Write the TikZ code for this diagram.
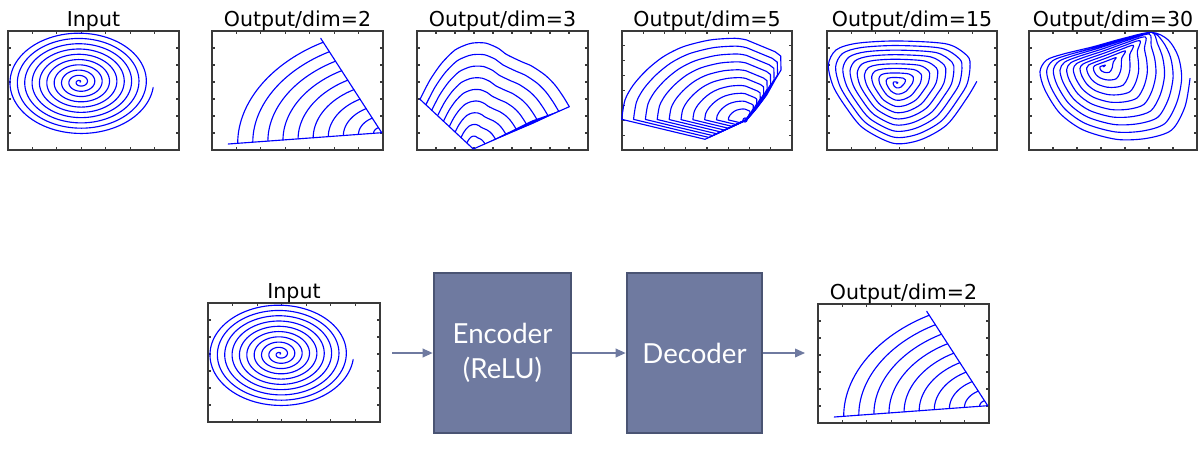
\documentclass[tikz,border=0pt]{standalone}
\usepackage{fontspec}
\setmainfont{DejaVu Sans}
\newfontfamily\blkfont{Lato}
\usetikzlibrary{arrows.meta}
\definecolor{blkfill}{HTML}{6F7AA0}
\definecolor{blkedge}{HTML}{4A5473}
\definecolor{arrc}{HTML}{6F7AA0}
\definecolor{frm}{HTML}{3A3A3A}
\definecolor{spc}{RGB}{0,0,255}
\tikzset{
  framesty/.style={draw=frm, line width=0.9pt},
  bluecurve/.style={draw=spc, line width=0.85pt, line join=round, line cap=round},
  ttl/.style={anchor=base, inner sep=0pt, font=\fontsize{15.4}{18}\selectfont},
  blk/.style={draw=blkedge, fill=blkfill, line width=2pt, text=white, align=center, inner sep=0pt, font=\blkfont\fontsize{20.7}{26.5}\selectfont, minimum height=120pt},
  conn/.style={draw=arrc, line width=1.1pt, -{Triangle[length=7.5pt,width=6.5pt]}},
}
\newcommand\axframe[6]{%
  \draw[framesty] (#1,#2) rectangle ++(#3,#4);
  \foreach \i in {1,...,#5}{
    \draw[framesty] ({#1+\i*#3/(#5+1)},#2) -- ++(0,3);
    \draw[framesty] ({#1+\i*#3/(#5+1)},{#2+#4}) -- ++(0,-3);
  }
  \foreach \i in {1,...,#6}{
    \draw[framesty] (#1,{#2+\i*#4/(#6+1)}) -- ++(3,0);
    \draw[framesty] ({#1+#3},{#2+\i*#4/(#6+1)}) -- ++(-3,0);
  }
}
\newcommand\inputspiral{%
  \draw[bluecurve] plot[domain=0:62.74, samples=1000] ({72+1.173*\x*cos(\x r)}, {51-0.84*\x*sin(\x r)});
}
\newcommand\dimtwo{%
  \foreach \rr in {8.1,23.2,38.3,53.4,68.5,83.6,98.7,113.8,128.9,144}{
    \draw[bluecurve] plot[domain=0:66.05, samples=60] ({169.7-\rr*cos(\x)}, {101.7-0.72*\rr*sin(\x)+0.0734*\rr*cos(\x)});
  }
  \draw[bluecurve] (16.3,113) -- (169.7,101.7) -- (108.7,7.3);
}
\begin{document}
\begin{tikzpicture}[x=0.75pt,y=-0.75pt]
\fill[white] (0,0) rectangle (1203,450);
\useasboundingbox (0,0) rectangle (1203,450);

% ---------- top row frames ----------
\axframe{8}{31}{171}{119}{6}{6}
\axframe{212}{31}{171}{119}{6}{6}
\axframe{417}{31}{171}{119}{8}{6}
\axframe{622}{31}{170}{119}{7}{7}
\axframe{827}{31}{170}{119}{6}{6}
\axframe{1029}{31}{168}{119}{6}{6}

\node[ttl] (t1) at (93.5,26) {Input};
\node[ttl] (t2) at (297.5,26) {Output/dim=2};
\node[ttl] (t3) at (502.5,26) {Output/dim=3};
\node[ttl] (t4) at (707,26) {Output/dim=5};
\node[ttl] (t5) at (912,26) {Output/dim=15};
\node[ttl] (t6) at (1113,26) {Output/dim=30};

% panel 1
\begin{scope}[shift={(8,31)}]\inputspiral\end{scope}
% panel 2
\begin{scope}[shift={(212,31)}]\dimtwo\end{scope}
% panel 3
\begin{scope}[shift={(473.3,149)}]
  \foreach \s in {0.121,0.231,0.341,0.451,0.560,0.670,0.780,0.890,1}{
    \begin{scope}[scale=\s]
      \draw[bluecurve] plot[smooth,tension=0.45] coordinates {(-53.3,-49.7) (-43.3,-69) (-31.7,-85.7) (-18.3,-99) (-5,-105) (3.3,-106.3) (13.3,-105.7) (25,-100.7) (33.3,-94.5) (48.3,-87.3) (58.3,-83) (71.7,-74) (81.7,-64) (90,-52.3) (96,-42.3)};
    \end{scope}
  }
  \draw[bluecurve] (-53.3,-49.7) -- (0,0) -- (96,-42.3);
  \fill[spc] (9.6,-4.23) -- (58.7,-28.5) -- (88.3,-38.9) -- (59.9,-25.3) -- cycle;
\end{scope}
% panel 4
\begin{scope}[shift={(745,120)}]
  \foreach \s in {0.135,0.231,0.327,0.423,0.519,0.615,0.712,0.808,0.904,1}{
    \begin{scope}[scale=\s]
      \draw[bluecurve] plot[smooth,tension=0.5] coordinates {(-123.3,-0.7) (-120,-20) (-111.7,-35) (-98.3,-50) (-81.7,-63.3) (-61.7,-73.3) (-35,-80) (-10,-81.7) (1.7,-80)} -- (30,-68.3) -- (35.7,-64) -- (36,-50) -- (30,-40) -- (21.7,-25) -- (11.7,-11.7) -- (1.7,0) -- (-40,19.3) -- cycle;
    \end{scope}
  }
  \draw[bluecurve] (0,0) circle[radius=2];
\end{scope}
% panel 5
\gdef\ptlist{}
\foreach \k in {0,...,9}{
  \foreach \px/\py [count=\j from 0] in {212/0,220/-50,212/-82,150/-118,0/-127,-120/-120,-182/-100,-205/-55,-190/10,-150/75,-100/135,-10/180,70/170,150/125,210/45}{
    \pgfmathsetmacro\myfo{(9+\j/15)/10}
    \pgfmathsetmacro\myf{(\k+\j/15)/10}
    \pgfmathsetmacro\myX{\px/3*\myf/\myfo}
    \pgfmathsetmacro\myY{\py/3*\myf/\myfo}
    \xdef\ptlist{\ptlist (\myX,\myY)}
  }
}
\xdef\ptlist{\ptlist (80,-1.7)}
\edef\tmp{\noexpand\draw[bluecurve,shift={(896.7,83.3)}] plot[smooth] coordinates {\ptlist};}
\tmp
% panel 6
\gdef\ptlistb{}
\foreach \k in {0,...,9}{
  \foreach \px/\py/\w [count=\j from 0] in {235/35/0.03,225/-30/0.1,195/-80/0.32,145/-103/1,60/-85/0.73,-30/-60/0.44,-120/-38/0.16,-170/-20/0,-190/15/0,-175/70/0,-130/140/0,-60/190/0,40/218/0,130/215/0,205/190/0,245/120/0}{
    \pgfmathsetmacro\myfo{(9+\j/16)/10}
    \pgfmathsetmacro\myf{(\k+\j/16)/10}
    \pgfmathsetmacro\myh{(1-\myf)*\w*min(1,1.4*\myf)}
    \pgfmathsetmacro\myX{(\myf/\myfo*(\px-(1-\myfo)*\w*145)+\myh*145)/3}
    \pgfmathsetmacro\myY{(\myf/\myfo*(\py+(1-\myfo)*\w*103)-\myh*103)/3}
    \xdef\ptlistb{\ptlistb (\myX,\myY)}
  }
}
\xdef\ptlistb{\ptlistb (86.7,11.7)}
\edef\tmp{\noexpand\draw[bluecurve,shift={(1103.3,66.7)}] plot[smooth] coordinates {\ptlistb};}
\tmp

% ---------- bottom row ----------
\axframe{208}{303}{172}{119}{6}{6}
\node[ttl] (tb1) at (294,298.3) {Input};
\begin{scope}[shift={(208,303)}]\inputspiral\end{scope}

\axframe{818}{304}{171}{119}{6}{6}
\node[ttl] (tb2) at (903.5,299.3) {Output/dim=2};
\begin{scope}[shift={(818,304)}]\dimtwo\end{scope}

\node[blk, minimum width=102.75pt] (enc) at (502.5,353) {Encoder\\(ReLU)};
\node[blk, minimum width=101.25pt] (dec) at (694.5,353) {Decoder};

\coordinate (a1) at (392,353);
\coordinate (a3) at (805,353);
\draw[conn] (a1) -- (enc.west);
\draw[conn] (enc.east) -- (dec.west);
\draw[conn] (dec.east) -- (a3);
\end{tikzpicture}
\end{document}
